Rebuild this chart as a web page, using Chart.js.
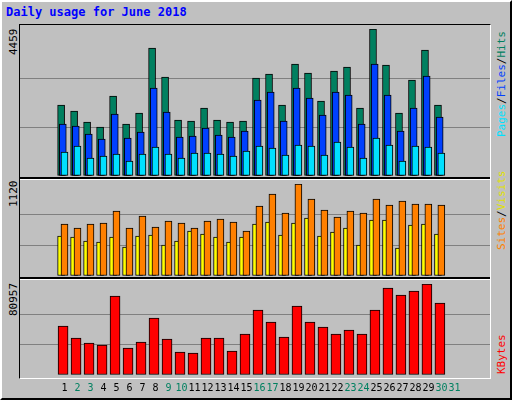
<!DOCTYPE html>
<html><head><meta charset="utf-8">
<script src="https://cdn.jsdelivr.net/npm/chart.js@4.4.0/dist/chart.umd.min.js"></script>
<style>
html,body{margin:0;padding:0;background:#fff}
#frame{position:absolute;left:0;top:0;width:508px;height:396px;background:#C0C0C0;border:2px solid #000;border-color:#fff #000 #000 #fff;box-sizing:content-box}
#title{position:absolute;left:6px;top:5px;font:bold 12px "DejaVu Sans Mono",monospace;color:#0000ff}
#panel{position:absolute;left:19px;top:24px;width:470px;height:353px;border:1px solid #000;border-right-color:#fff;border-bottom-color:#fff}
.sep{position:absolute;left:20px;width:470px;height:2px;background:#000;border-bottom:1px solid #fff}
.c{position:absolute;left:20px;width:470px}
.vl{position:absolute;font:11px "DejaVu Sans Mono",monospace;transform-origin:0 0;transform:rotate(-90deg);white-space:nowrap}
</style></head><body>
<div id="frame"></div>
<div id="title">Daily usage for June 2018</div>
<div id="panel"></div>
<div class="sep" style="top:177px"></div>
<div class="sep" style="top:277px"></div>
<div class="c" style="top:29px;height:147px"><canvas id="c1"></canvas></div>
<div class="c" style="top:184px;height:92px"><canvas id="c2"></canvas></div>
<div class="c" style="top:284px;height:112px"><canvas id="c3"></canvas></div>
<div class="vl" style="left:7px;top:55px">4459</div>
<div class="vl" style="left:7px;top:207px">1120</div>
<div class="vl" style="left:7px;top:316px">80957</div>
<div class="vl" style="left:495px;top:137px"><span style="color:#00E0FF">Pages</span>/<span style="color:#0040FF">Files</span>/<span style="color:#008060">Hits</span></div>
<div class="vl" style="left:495px;top:250px"><span style="color:#FF8000">Sites</span>/<span style="color:#E0E000">Visits</span></div>
<div class="vl" style="left:495px;top:374px"><span style="color:#FF0000">KBytes</span></div>
<script>
const days=[1,2,3,4,5,6,7,8,9,10,11,12,13,14,15,16,17,18,19,20,21,22,23,24,25,26,27,28,29,30];
const dayLabels=["1","2","3","4","5","6","7","8","9","10","11","12","13","14","15","16","17","18","19","20","21","22","23","24","25","26","27","28","29","30","31"];
const weekend=[2,3,9,10,16,17,23,24,30,31];
const hits=[2154,1972,1638,1486,2427,1577,1911,3883,3003,1699,1668,2063,1699,1638,1668,2973,3094,2154,3397,3124,2275,3185,3306,2063,4459,3367,1911,2912,3822,2154];
const files=[1577,1517,1274,1122,1881,1153,1335,2669,1941,1183,1213,1456,1244,1183,1365,2305,2548,1668,2669,2366,1850,2548,2457,1577,3397,2457,1365,2063,3033,1790];
const pages=[728,910,546,607,667,455,667,880,667,546,698,698,667,607,758,910,849,637,940,910,637,1031,880,546,1153,940,455,910,880,698];
const visits=[633,584,633,645,791,584,730,597,670,645,584,670,694,657,548,852,998,767,1120,937,803,718,791,767,937,864,913,877,877,864];
const sites=[487,475,426,414,475,353,487,499,377,426,548,511,475,414,475,633,657,499,645,706,487,536,584,377,682,682,341,621,633,511];
const kbytes=[43588,32912,28464,26685,70270,24017,29354,50702,32022,20459,19569,32912,32912,21348,36470,57818,47144,33801,61376,47144,42696,36470,40028,36470,57818,77387,71160,74718,80957,64044];
const maxes=[4459,1120,80957];

function ds(vals,off,color,w,order){
  return {data:days.map((d,i)=>({x:d+off,y:vals[i]})),backgroundColor:color,borderColor:'#000',borderWidth:1,borderSkipped:false,barThickness:w,order:order,grouped:false};
}
function opts(max,padBottom){
  return {animation:false,responsive:true,maintainAspectRatio:false,
    layout:{padding:{left:0,right:0,top:0,bottom:padBottom}},
    plugins:{legend:{display:false},tooltip:{enabled:false}},
    scales:{
      x:{type:'linear',min:0.5,max:31.5,display:false},
      y:{min:0,max:max,afterBuildTicks:s=>{s.ticks=[{value:0},{value:max/3},{value:2*max/3},{value:max}];},
        ticks:{display:false},border:{display:false},
        grid:{color:c=>(c.index===1||c.index===2)?'#808080':'rgba(0,0,0,0)',lineWidth:1,drawTicks:false}}
    }};
}
new Chart(document.getElementById('c1'),{type:'bar',data:{datasets:[
  ds(hits,0.08,'#008060',7,3),ds(files,0.21,'#0040FF',7,2),ds(pages,0.34,'#00E0FF',7,1)]},options:opts(maxes[0],0)});
new Chart(document.getElementById('c2'),{type:'bar',data:{datasets:[
  ds(sites,0.08,'#FFFF00',7,2),ds(visits,0.34,'#FF8000',7,1)]},options:opts(maxes[1],0)});
const dayLabelPlugin={id:'dl',afterDraw(ch){
  const ctx=ch.ctx,xs=ch.scales.x;ctx.save();
  ctx.font='10px "DejaVu Sans Mono", monospace';ctx.textAlign='center';ctx.textBaseline='middle';
  dayLabels.forEach((t,i)=>{const d=i+1;ctx.fillStyle=weekend.includes(d)?'#008060':'#000';
    ctx.fillText(t,xs.getPixelForValue(d+0.35),ch.chartArea.bottom+13);});
  ctx.restore();}};
new Chart(document.getElementById('c3'),{type:'bar',data:{datasets:[
  ds(kbytes,0.23,'#FF0000',10,1)]},options:opts(maxes[2],21),plugins:[dayLabelPlugin]});
</script>
</body></html>
